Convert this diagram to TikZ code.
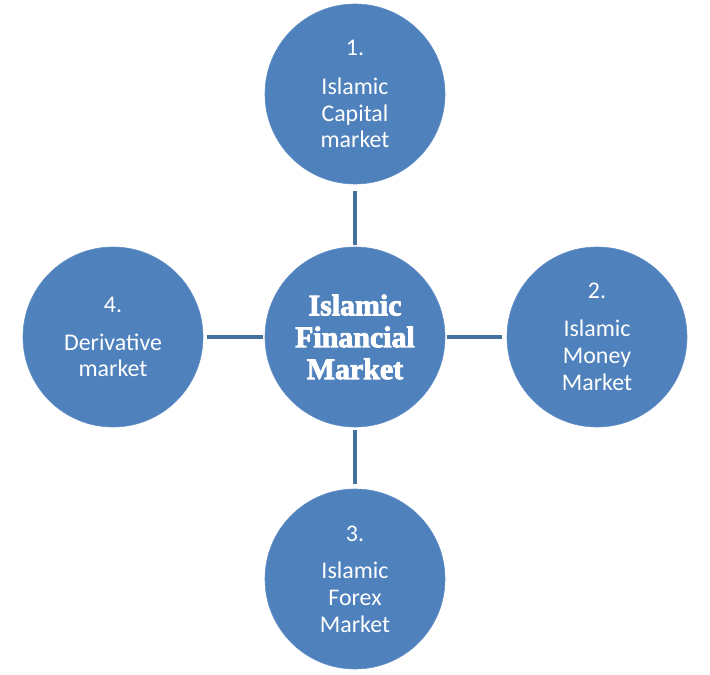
\documentclass[tikz,border=0pt]{standalone}
\usepackage{fontspec}
\setmainfont{Carlito}
\newfontfamily\titlefont[BoldFeatures={FakeBold=3}]{Liberation Serif}
\definecolor{circfill}{HTML}{4F81BD}
\definecolor{linkcol}{HTML}{41719C}
\begin{document}
\begin{tikzpicture}[x=1bp,y=-1bp,
  bubble/.style={circle,fill=circfill,draw=circfill!90!white,line width=0.6bp,
    minimum size=180bp,inner sep=0pt,text=white,align=center,
    font=\fontsize{24}{27}\selectfont},
  hub/.style={bubble,font=\titlefont\bfseries\fontsize{30}{32}\selectfont},
  link/.style={draw=linkcol,line width=3.5bp}]
\useasboundingbox (0,0) rectangle (710,675);
\node[hub] (c) at (355,337) {Islamic\\Financial\\Market};
\node[bubble] (t) at (355,94) {1.\\[12bp]Islamic\\Capital\\market};
\node[bubble] (r) at (597,337) {2.\\[11bp]Islamic\\Money\\Market};
\node[bubble] (b) at (355,579) {3.\\[10bp]Islamic\\Forex\\Market};
\node[bubble] (l) at (113,337) {4.\\[11bp]Derivative\\market};
\draw[link,shorten <=7bp,shorten >=2bp] (t) -- (c);
\draw[link,shorten <=3bp,shorten >=5bp] (c) -- (b);
\draw[link,shorten <=4bp,shorten >=2bp] (l) -- (c);
\draw[link,shorten <=2bp,shorten >=5bp] (c) -- (r);
\end{tikzpicture}
\end{document}
